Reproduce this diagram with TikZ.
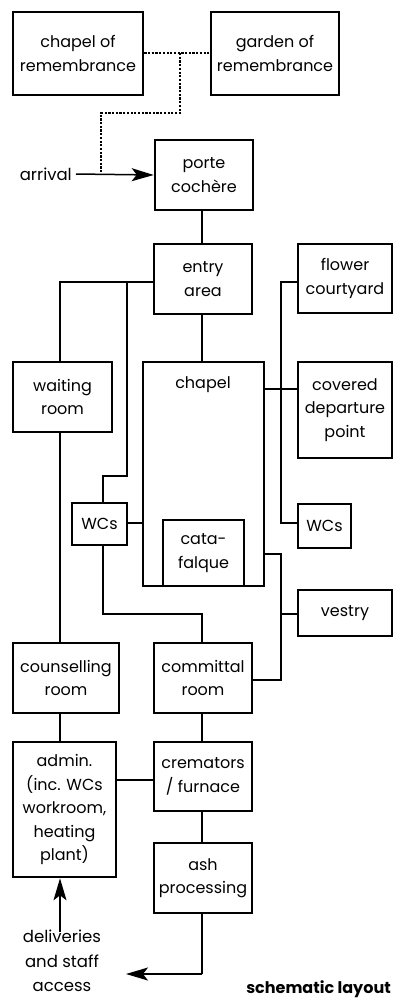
\documentclass[tikz,border=0pt]{standalone}
\usepackage{fontspec}
\setmainfont{Poppins}
\usetikzlibrary{arrows.meta}
\begin{document}
\begin{tikzpicture}[x=1pt,y=-1pt,
  box/.style={draw, line width=2.6pt, rectangle, align=center, inner sep=0pt,
    font=\fontsize{16}{23.5}\selectfont},
  conn/.style={line width=1.5pt},
  dots/.style={line width=1.8pt, dash pattern=on 2.2pt off 1.5pt},
  arr/.style={line width=1.5pt, -{Stealth[length=22pt,width=13pt,inset=5pt]}},
  lbl/.style={align=center, inner sep=0pt, font=\fontsize{16.5}{24.5}\selectfont}]
\useasboundingbox (0,0) rectangle (394,1001);
\fill[white] (0,0) rectangle (394,1001);
% boxes
\node[box, minimum width=130, minimum height=83] (chrem) at (78,53.5) {chapel of\\remembrance};
\node[box, minimum width=128, minimum height=83] (garden) at (275,53.5) {garden of\\remembrance};
\node[box, minimum width=98, minimum height=70] (porte) at (204,175) {porte\\cochère};
\node[box, minimum width=98, minimum height=70] (entry) at (203,279) {entry\\area};
\node[box, minimum width=94, minimum height=69] (flower) at (345,278.5) {flower\\courtyard};
\node[box, minimum width=99, minimum height=70] (waiting) at (62.5,397) {waiting\\room};
\node[box, minimum width=121, minimum height=224] (chapel) at (203.5,474) {};
\node[font=\fontsize{16}{23.5}\selectfont, inner sep=0pt] (chapeltxt) at (203,385) {chapel};
\node[box, minimum width=94, minimum height=96] (covered) at (345,410) {covered\\departure\\point};
\node[box, minimum width=55, minimum height=42] (wcl) at (99.5,524) {WCs};
\node[box, minimum width=81, minimum height=66] (cata) at (203.5,553) {cata-\\falque};
\node[box, minimum width=53, minimum height=44] (wcr) at (324.5,526) {WCs};
\node[box, minimum width=94, minimum height=46] (vestry) at (345,613) {vestry};
\node[box, minimum width=106, minimum height=70] (couns) at (66,678) {counselling\\room};
\node[box, minimum width=98, minimum height=70] (comm) at (203,678) {committal\\room};
\node[box, minimum width=103, minimum height=135] (admin) at (64.5,809.5) {admin.\\(inc. WCs\\workroom,\\heating\\plant)};
\node[box, minimum width=98, minimum height=69] (crem) at (203,776.5) {cremators\\/ furnace};
\node[box, minimum width=98, minimum height=70] (ash) at (203,878) {ash\\processing};
% labels
\node[lbl, anchor=east] (arrival) at (72,174) {arrival};
\node[lbl, anchor=north] (deliv) at (62,930) {deliveries\\and staff\\access};
\node[lbl, anchor=east, font=\bfseries\fontsize{16}{22}\selectfont] (schem) at (391,989) {schematic layout};
% coordinates
\coordinate (dA) at (180,53);
\coordinate (dB) at (180,113);
\coordinate (dC) at (101,113);
\coordinate (dD) at (101,174);
\coordinate (eL) at (60,282);
\coordinate (eM) at (127,282);
\coordinate (eN) at (127,476);
\coordinate (eO) at (103,476);
\coordinate (fA) at (281,282);
\coordinate (fB) at (281,523);
\coordinate (vA) at (281,554);
\coordinate (vB) at (281,680);
\coordinate (vC) at (281,614);
\coordinate (wA) at (103,614);
\coordinate (wB) at (202,614);
\coordinate (aA) at (202,974);
\coordinate (aB) at (126,974);
% dotted
\draw[dots] (chrem.east |- dA) -- (garden.west |- dA);
\draw[dots] (dA) -- (dB) -- (dC) -- (dD);
% arrival
\draw[arr] ([xshift=4pt]arrival.east) -- (porte.west);
\draw[conn] (porte.south -| 202,0) -- (entry.north -| 202,0);
\draw[conn] (entry.west |- eL) -- (eL) -- (waiting.north -| eL);
\draw[conn] (eM) -- (eN) -- (eO) -- (wcl.north -| eO);
\draw[conn] (entry.south -| 202,0) -- (chapel.north -| 202,0);
\draw[conn] (flower.west |- fA) -- (fA) -- (fB) -- (wcr.west |- fB);
\draw[conn] (chapel.east |- 0,389) -- (covered.west |- 0,389);
\draw[conn] (wcl.east |- 0,523) -- (chapel.west |- 0,523);
\draw[conn] (chapel.east |- vA) -- (vA) -- (vB) -- (comm.east |- vB);
\draw[conn] (vC) -- (vestry.west |- vC);
\draw[conn] (wcl.south -| wA) -- (wA) -- (wB) -- (comm.north -| wB);
\draw[conn] (waiting.south -| 60,0) -- (couns.north -| 60,0);
\draw[conn] (couns.south -| 60,0) -- (admin.north -| 60,0);
\draw[conn] (comm.south -| 202,0) -- (crem.north -| 202,0);
\draw[conn] (admin.east |- 0,780) -- (crem.west |- 0,780);
\draw[conn] (crem.south -| 202,0) -- (ash.north -| 202,0);
\draw[conn] (ash.south -| aA) -- (aA);
\draw[arr] (aA) -- (aB);
\draw[arr] ([yshift=-2pt]deliv.north -| 60,0) -- (admin.south -| 60,0);
\end{tikzpicture}
\end{document}
